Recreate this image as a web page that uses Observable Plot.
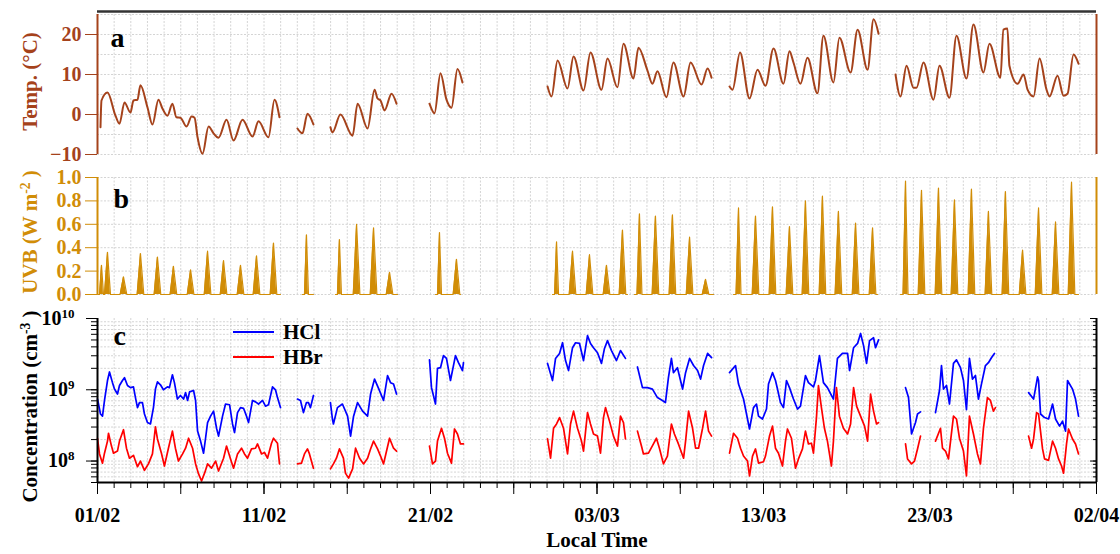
<!DOCTYPE html>
<html><head><meta charset="utf-8">
<script src="https://cdn.jsdelivr.net/npm/d3@7"></script>
<script src="https://cdn.jsdelivr.net/npm/@observablehq/plot@0.6"></script>
<style>
html,body{margin:0;padding:0;background:#fff;}
#chart{position:relative;width:1120px;height:554px;overflow:hidden;font-family:"Liberation Serif","Times New Roman",serif;}
#chart > div{position:absolute;left:0;}
</style></head>
<body><div id="chart"></div>
<script>
// ---------- DATA (day offsets from 01/02/2019 00:00 local time) ----------
const startDate = "2019-02-01";
const endDate = "2019-04-02";
const xTickLabels = ["2019-02-01","2019-02-11","2019-02-21","2019-03-03","2019-03-13","2019-03-23","2019-04-02"];
const tempTicks = [-10, 0, 10, 20];
const uvbTicks = [0, 0.2, 0.4, 0.6, 0.8, 1.0];
const concTicks = [1e8, 1e9, 1e10];

// Temperature (°C): [day, value]; null = data gap
const temperature = [
 [0.18,-3.2],[0.24,3.5],[0.60,5.5],[1.08,-0.3],[1.32,-2.3],[1.62,3],[1.98,0.5],[2.16,3.5],[2.40,3.7],[2.58,7.3],
 [3.00,1.8],[3.30,-2.5],[3.66,3.7],[3.90,1.5],[4.20,-0.3],[4.50,2.7],[4.74,-0.7],[4.98,-0.8],[5.35,-3],[5.65,-0.5],
 [5.83,-0.8],[6.01,-5.7],[6.31,-9.8],[6.67,-3],[6.97,-4.7],[7.27,-5.8],[7.75,-1.3],[8.17,-6.5],[8.71,-1.3],[9.31,-5.5],
 [9.67,-1.7],[10.27,-5.7],[10.63,3.7],[10.93,-0.7], null,
 [12.01,-3.5],[12.31,-4.7],[12.61,0.2],[12.97,-2.5], null,
 [13.99,-3.2],[14.11,-4.5],[14.59,0],[15.32,-5.3],[15.62,2.7],[16.22,-3.5],[16.64,6.2],[16.82,4],[17.00,3.5],[17.24,1],[17.66,5.2],[17.96,2.7], null,
 [19.94,2.7],[20.24,0.3],[20.60,10.3],[20.96,3.7],[21.26,1.7],[21.62,11.4],[21.92,8], null,
 [27.03,7],[27.27,4.5],[27.63,13.5],[28.23,6.5],[28.59,14.5],[29.19,6],[29.61,15.5],[30.27,6.2],[30.63,14],[31.23,6.8],
 [31.59,17.7],[32.19,9],[32.49,16.7],[33.03,11],[33.33,7.7],[33.63,10.8],[34.17,4.3],[34.59,13],[35.20,4.5],[35.62,13],
 [36.28,7.5],[36.64,11.5],[36.88,9.2], null,
 [37.96,7],[38.14,6.2],[38.59,15.5],[39.16,4],[39.64,11.2],[40.12,7.2],[40.60,16.5],[41.20,7.7],[41.56,15.8],[41.80,13],
 [42.22,7.7],[42.64,14.2],[43.24,5.3],[43.60,19.7],[44.20,8],[44.56,19.2],[45.23,10.5],[45.65,21.2],[46.25,11.2],[46.61,23.8],[46.91,20.2], null,
 [47.93,10],[48.23,4.5],[48.59,12.2],[49.01,6.7],[49.19,6.7],[49.61,13],[50.21,3.7],[50.57,12.2],[51.17,4.2],[51.59,19.7],
 [52.19,9],[52.61,22.5],[53.21,10.5],[53.57,17.7],[54.23,9.2],[54.41,21.2],[54.65,21.5],[54.77,12.2],[55.26,7.7],[55.62,10],
 [55.86,6.2],[56.22,4.5],[56.58,14],[57.00,6.2],[57.18,4.5],[57.66,9.7],[58.02,4.7],[58.26,5.2],[58.62,15],[58.92,12.7]
];

// UVB (W m-2): recording periods [start, end] and daily peaks
const uvbPeriods = [[0.00,10.99],[12.31,12.97],[14.29,18.02],[20.30,21.80],[27.33,31.83],[32.25,37.00],[38.20,46.85],[48.23,58.92]];
const uvbPeakDay = [0.24,0.60,1.56,2.58,3.60,4.56,5.59,6.61,7.57,8.59,9.55,10.57,12.55,14.53,15.56,16.58,17.54,20.54,21.56,
 27.57,28.53,29.55,30.57,31.53,32.55,33.51,34.53,35.56,36.52,38.50,39.52,40.54,41.56,42.52,43.54,44.50,45.53,46.55,
 48.53,49.49,50.51,51.47,52.49,53.51,54.53,55.56,56.52,57.54,58.50];
const uvbPeak = [0.25,0.36,0.15,0.35,0.32,0.24,0.21,0.37,0.29,0.25,0.33,0.44,0.51,0.47,0.60,0.57,0.19,0.53,0.30,
 0.45,0.37,0.34,0.25,0.55,0.69,0.67,0.68,0.49,0.13,0.74,0.67,0.75,0.58,0.80,0.84,0.71,0.61,0.57,
 0.97,0.89,0.91,0.81,0.90,0.71,0.88,0.38,0.74,0.62,0.96];

// HCl concentration: [day, log10(cm-3)]; null = gap
const hcl = [
 [0.00,8.87],[0.18,8.66],[0.30,8.63],[0.42,8.85],[0.60,9.13],[0.72,9.25],[0.90,9.10],[1.02,9.01],[1.20,8.94],[1.32,9.06],
 [1.50,9.13],[1.62,9.17],[1.80,9.06],[1.98,9.03],[2.16,9.04],[2.28,8.89],[2.40,8.75],[2.52,8.82],[2.70,8.82],[2.82,8.66],
 [3.00,8.54],[3.18,8.52],[3.36,8.75],[3.48,9.01],[3.60,9.11],[3.78,9.07],[3.96,9.00],[4.20,9.04],[4.32,9.03],[4.50,9.21],
 [4.62,9.10],[4.80,8.87],[4.98,8.92],[5.17,8.87],[5.29,8.96],[5.41,8.85],[5.53,8.97],[5.77,8.99],[5.89,8.85],[6.01,8.42],
 [6.19,8.28],[6.37,8.11],[6.49,8.32],[6.61,8.54],[6.79,8.63],[6.97,8.70],[7.15,8.46],[7.27,8.35],[7.51,8.63],[7.69,8.80],
 [7.93,8.79],[8.11,8.52],[8.23,8.40],[8.41,8.68],[8.59,8.75],[8.77,8.74],[8.95,8.63],[9.07,8.54],[9.31,8.85],[9.49,8.83],
 [9.67,8.80],[9.91,8.85],[10.09,8.77],[10.27,8.79],[10.51,9.04],[10.69,9.00],[10.81,8.89],[10.99,8.75], null,
 [12.01,8.87],[12.19,8.85],[12.37,8.68],[12.55,8.82],[12.67,8.82],[12.79,8.75],[12.97,8.92], null,
 [13.99,8.82],[14.11,8.59],[14.17,8.52],[14.41,8.75],[14.71,8.80],[15.02,8.63],[15.20,8.35],[15.38,8.63],[15.62,8.82],[15.92,8.70],
 [16.22,8.63],[16.40,8.94],[16.64,9.15],[16.88,9.02],[17.18,8.85],[17.42,9.20],[17.60,9.10],[17.78,9.08],[17.96,8.94], null,
 [19.94,9.42],[20.06,9.03],[20.30,8.80],[20.42,9.30],[20.60,9.31],[20.78,9.48],[20.96,9.44],[21.20,9.13],[21.50,9.48],[21.68,9.38],[21.92,9.27],[21.98,9.38], null,
 [27.03,9.37],[27.33,9.13],[27.51,9.44],[27.75,9.51],[27.93,9.66],[28.11,9.41],[28.29,9.27],[28.53,9.59],[28.71,9.66],[28.95,9.65],
 [29.19,9.41],[29.43,9.76],[29.61,9.65],[29.79,9.59],[30.03,9.52],[30.27,9.37],[30.45,9.58],[30.63,9.69],[30.87,9.55],[31.17,9.41],[31.41,9.55],[31.71,9.44], null,
 [32.43,9.32],[32.73,9.03],[33.03,9.03],[33.33,9.01],[33.63,8.89],[33.93,8.85],[34.11,8.82],[34.29,9.17],[34.47,9.44],[34.59,9.24],
 [34.83,9.31],[35.14,9.01],[35.32,9.24],[35.56,9.44],[35.80,9.34],[36.04,9.27],[36.22,9.15],[36.40,9.34],[36.64,9.51],[36.88,9.45], null,
 [37.96,9.24],[38.32,9.34],[38.50,9.08],[38.80,8.87],[39.16,8.45],[39.40,8.75],[39.58,8.80],[39.70,8.63],[39.94,8.59],[40.18,8.73],
 [40.30,9.08],[40.54,9.24],[40.72,9.13],[40.84,9.01],[41.02,8.82],[41.20,8.75],[41.38,9.13],[41.56,9.03],[41.80,8.87],[42.04,8.73],
 [42.22,8.77],[42.52,9.20],[42.70,9.10],[43.00,9.04],[43.12,9.13],[43.36,9.48],[43.60,9.10],[43.84,9.03],[44.20,8.87],[44.44,9.44],
 [44.74,9.51],[45.05,9.51],[45.17,9.27],[45.41,9.59],[45.65,9.65],[45.83,9.79],[46.01,9.62],[46.19,9.37],[46.37,9.69],[46.61,9.73],[46.73,9.59],[46.91,9.70], null,
 [48.53,9.03],[48.71,8.89],[48.89,8.38],[49.13,8.54],[49.25,8.66],[49.43,8.69], null,
 [50.33,8.68],[50.57,8.99],[50.69,9.34],[50.81,9.01],[50.99,9.06],[51.17,8.80],[51.41,9.37],[51.59,9.42],[51.83,9.31],[52.01,9.13],
 [52.19,8.72],[52.37,9.44],[52.55,9.15],[52.73,9.20],[52.91,8.87],[53.09,9.08],[53.33,9.34],[53.51,9.38],[53.69,9.45],[53.87,9.51], null,
 [55.92,8.96],[56.22,8.87],[56.46,9.18],[56.52,9.13],[56.64,8.66],[56.88,8.61],[57.12,8.59],[57.36,8.80],[57.54,8.59],[57.78,8.49],
 [57.96,8.56],[58.14,8.42],[58.26,9.13],[58.56,9.01],[58.74,8.87],[58.92,8.63]
];

// HBr concentration: [day, log10(cm-3)]; null = gap
const hbr = [
 [0.00,8.32],[0.12,8.10],[0.30,7.97],[0.42,8.11],[0.60,8.28],[0.66,8.39],[0.84,8.21],[0.96,8.11],[1.20,8.14],[1.32,8.28],
 [1.56,8.44],[1.74,8.18],[1.92,8.04],[2.16,8.08],[2.40,7.92],[2.58,8.00],[2.82,7.87],[3.06,7.96],[3.30,8.10],[3.48,8.48],
 [3.60,8.31],[3.84,8.11],[4.02,7.93],[4.26,8.18],[4.50,8.42],[4.68,8.18],[4.86,8.00],[5.11,8.10],[5.29,8.18],[5.47,8.32],
 [5.71,8.18],[5.89,7.96],[6.07,7.82],[6.25,7.72],[6.43,7.83],[6.61,7.96],[6.85,7.90],[7.09,8.00],[7.27,7.86],[7.57,8.04],
 [7.75,8.21],[7.99,8.03],[8.17,7.90],[8.41,8.10],[8.65,8.18],[8.83,8.10],[9.01,8.04],[9.25,8.17],[9.49,8.18],[9.61,8.24],
 [9.85,8.10],[10.03,8.12],[10.21,8.04],[10.45,8.25],[10.57,8.32],[10.81,8.25],[10.93,7.96], null,
 [12.01,7.96],[12.25,7.97],[12.43,8.10],[12.61,8.17],[12.73,8.10],[12.97,7.90], null,
 [13.99,7.89],[14.17,7.96],[14.35,8.04],[14.53,8.17],[14.77,8.04],[14.89,7.83],[15.08,7.76],[15.32,7.89],[15.50,8.18],[15.74,8.04],
 [15.98,7.96],[16.22,8.04],[16.40,8.17],[16.58,8.28],[16.82,8.17],[17.00,8.07],[17.18,7.96],[17.36,8.14],[17.54,8.32],[17.78,8.18],[17.96,8.14], null,
 [19.94,8.21],[20.12,7.96],[20.30,8.00],[20.42,8.28],[20.66,8.46],[20.84,8.32],[21.02,8.11],[21.26,7.97],[21.44,8.45],[21.62,8.38],[21.80,8.24],[21.98,8.24], null,
 [27.03,8.31],[27.21,8.04],[27.39,8.46],[27.57,8.52],[27.75,8.61],[27.99,8.46],[28.23,8.10],[28.41,8.52],[28.59,8.70],[28.83,8.46],
 [29.07,8.28],[29.19,8.14],[29.43,8.68],[29.61,8.52],[29.79,8.38],[30.03,8.35],[30.21,8.11],[30.39,8.61],[30.51,8.75],[30.75,8.56],
 [30.99,8.35],[31.23,8.21],[31.41,8.63],[31.59,8.54],[31.71,8.31], null,
 [32.43,8.42],[32.67,8.21],[32.79,8.10],[33.09,8.11],[33.39,8.24],[33.57,8.32],[33.75,8.18],[33.99,7.96],[34.23,8.07],[34.47,8.52],
 [34.65,8.38],[34.89,8.24],[35.20,8.04],[35.32,8.28],[35.50,8.70],[35.74,8.46],[35.92,8.18],[36.10,8.18],[36.34,8.46],[36.52,8.70],[36.70,8.42],[36.88,8.35], null,
 [37.96,8.11],[38.20,8.39],[38.44,8.32],[38.62,8.18],[38.80,8.07],[39.04,8.00],[39.16,7.79],[39.34,8.07],[39.52,8.17],[39.70,7.97],
 [40.00,7.99],[40.12,8.07],[40.36,8.35],[40.54,8.49],[40.72,8.18],[40.90,8.11],[41.14,7.93],[41.32,8.28],[41.44,8.45],[41.68,8.32],
 [41.92,7.90],[42.10,8.03],[42.34,8.17],[42.52,8.42],[42.70,8.24],[42.88,8.25],[43.00,8.11],[43.18,8.61],[43.30,9.06],[43.48,8.75],
 [43.66,8.46],[43.84,8.28],[44.08,7.93],[44.20,8.28],[44.38,9.03],[44.56,8.63],[44.80,8.46],[45.05,8.38],[45.23,8.52],[45.41,9.03],
 [45.59,8.77],[45.83,8.63],[46.07,8.49],[46.25,8.28],[46.43,8.94],[46.61,8.70],[46.79,8.52],[46.91,8.54], null,
 [48.53,8.24],[48.65,8.03],[48.89,7.96],[49.07,8.00],[49.25,8.17],[49.43,8.35], null,
 [50.33,8.28],[50.63,8.46],[50.75,8.18],[50.93,8.14],[51.11,8.03],[51.41,8.63],[51.59,8.59],[51.77,8.32],[52.01,8.14],[52.19,7.79],
 [52.37,8.63],[52.61,8.38],[52.85,8.10],[53.03,7.96],[53.21,8.46],[53.45,8.89],[53.63,8.85],[53.81,8.70],[53.93,8.75], null,
 [55.92,8.35],[56.10,8.18],[56.22,8.31],[56.40,8.68],[56.52,8.66],[56.76,8.17],[56.88,8.03],[57.12,8.01],[57.36,8.28],[57.54,8.18],
 [57.72,8.03],[57.90,7.93],[58.02,7.83],[58.20,8.24],[58.32,8.45],[58.56,8.31],[58.74,8.24],[58.92,8.10]
];

// ---------- BUILD ----------
const W = 1120, ML = 97, MR = 24;
const BROWN = "#a5421b", GOLD = "#d18d07";
const FONT = '"Liberation Serif", "Times New Roman", serif';
const t0 = new Date(startDate + "T00:00:00Z");
const t1 = new Date(endDate + "T00:00:00Z");
const xDomain = [t0, t1];
const toDate = d => new Date(+t0 + d * 864e5);
const days = d3.utcDay.range(t0, d3.utcDay.offset(t1, 1));
const fiveDays = days.filter((d, i) => i % 5 === 0);
const labelDates = xTickLabels.map(s => new Date(s + "T00:00:00Z"));
const grid = {stroke: "#d4d4d4", strokeDasharray: "2,1.5", strokeWidth: 1};

const rows = (pts, f = v => v) => pts.map(p => p ? {t: toDate(p[0]), v: f(p[1])} : {t: null, v: null});
const tempRows = rows(temperature);
const hclRows = rows(hcl, v => 10 ** v);
const hbrRows = rows(hbr, v => 10 ** v);

const uvbRows = [];
uvbPeriods.forEach(([s, e]) => {
  uvbRows.push({t: toDate(s), v: 0});
  let prev = s;
  uvbPeakDay.forEach((t, i) => {
    if (t < s || t > e) return;
    const h = Math.min(0.2, (t - prev) / 2);
    uvbRows.push({t: toDate(t - h), v: 0}, {t: toDate(t), v: uvbPeak[i]}, {t: toDate(t + h), v: 0});
    prev = t;
  });
  uvbRows.push({t: toDate(e), v: 0}, {t: null, v: null});
});

// turn "base^sup rest" texts into real superscript tspans
function supify(svg) {
  svg.querySelectorAll("text").forEach(el => {
    const m = /^(.*?)\^(-?\d+)(.*)$/.exec(el.textContent);
    if (!m) return;
    while (el.firstChild) el.removeChild(el.firstChild);
    const ns = "http://www.w3.org/2000/svg";
    el.appendChild(document.createTextNode(m[1]));
    const s = document.createElementNS(ns, "tspan");
    s.setAttribute("dy", "-0.55em");
    s.setAttribute("font-size", "0.65em");
    s.textContent = m[2];
    el.appendChild(s);
    if (m[3]) {
      const r = document.createElementNS(ns, "tspan");
      r.setAttribute("dy", "0.36em");
      r.textContent = m[3];
      el.appendChild(r);
    }
  });
  return svg;
}

const chart = document.getElementById("chart");
function place(svg, top) {
  const div = document.createElement("div");
  div.style.top = top + "px";
  div.appendChild(supify(svg));
  chart.appendChild(div);
}
const baseStyle = c => ({color: c, fontFamily: FONT, fontSize: "20px", fontWeight: "bold", background: "transparent", overflow: "visible"});
const yTitle = (label, color, dy = 0) => Plot.text([label], {text: d => d, frameAnchor: "left", textAnchor: "middle", lineAnchor: "middle", rotate: -90, dx: -67, dy, fill: color, fontSize: 21, fontWeight: "bold"});
const letter = (s, dx, dy) => Plot.text([s], {text: d => d, frameAnchor: "top-left", textAnchor: "start", lineAnchor: "middle", dx, dy, fontSize: 28, fontWeight: "bold", fill: "#000"});

// Panel a
place(Plot.plot({
  width: W, height: 160, marginTop: 14, marginBottom: 6, marginLeft: ML, marginRight: MR,
  style: baseStyle(BROWN),
  x: {type: "utc", domain: xDomain, axis: null},
  y: {domain: [-10, 25], axis: null},
  marks: [
    Plot.ruleX(days, grid),
    Plot.ruleY(d3.range(-10, 26, 5), grid),
    Plot.line(tempRows, {x: "t", y: "v", stroke: BROWN, strokeWidth: 2, curve: "monotone-x"}),
    Plot.ruleX([t0], {stroke: BROWN, strokeWidth: 2}),
    Plot.ruleX([t1], {stroke: BROWN, strokeWidth: 2}),
    Plot.ruleY([25], {stroke: "#333", strokeWidth: 2.5, dy: -3}),
    Plot.axisY(tempTicks, {tickSize: 12, tickPadding: 4, fontSize: 20, label: null}),
    yTitle("Temp. (°C)", BROWN, -3),
    letter("a", 13, 24)
  ]
}), 0);

// Panel b
place(Plot.plot({
  width: W, height: 140, marginTop: 17, marginBottom: 6, marginLeft: ML, marginRight: MR,
  style: baseStyle(GOLD),
  x: {type: "utc", domain: xDomain, axis: null},
  y: {domain: [0, 1], axis: null},
  marks: [
    Plot.ruleX(days, grid),
    Plot.ruleY(uvbTicks, grid),
    Plot.areaY(uvbRows, {x: "t", y: "v", fill: GOLD}),
    Plot.lineY(uvbRows, {x: "t", y: "v", stroke: GOLD, strokeWidth: 1.2}),
    Plot.ruleX([t0], {stroke: GOLD, strokeWidth: 2}),
    Plot.ruleX([t1], {stroke: GOLD, strokeWidth: 2}),
    Plot.axisY(uvbTicks, {tickSize: 12, tickPadding: 4, fontSize: 20, label: null, tickFormat: d3.format(".1f")}),
    yTitle("UVB (W m^-2 )", GOLD, -4),
    letter("b", 16, 22)
  ]
}), 160);

// Panel c
const supFmt = d => "10^" + Math.round(Math.log10(d));
const minorConc = [];
for (let e = 7; e <= 9; e++) for (let k = 1; k <= 9; k++) { const v = k * 10 ** e; if (v >= 5e7 && v <= 1e10) minorConc.push(v); }
const blank = () => "";
place(Plot.plot({
  width: W, height: 254, marginTop: 18, marginBottom: 72, marginLeft: ML, marginRight: MR,
  style: baseStyle("#000"),
  x: {type: "utc", domain: xDomain, axis: null},
  y: {type: "log", domain: [5e7, 1e10], axis: null},
  marks: [
    Plot.ruleX(days, grid),
    Plot.ruleY(minorConc, grid),
    Plot.line(hclRows, {x: "t", y: "v", stroke: "#0000ff", strokeWidth: 1.7}),
    Plot.line(hbrRows, {x: "t", y: "v", stroke: "#ff0000", strokeWidth: 1.7}),
    Plot.ruleX([t0], {stroke: "#000", strokeWidth: 2}),
    Plot.ruleX([t1], {stroke: "#000", strokeWidth: 2}),
    Plot.ruleY([5e7], {stroke: "#000", strokeWidth: 2}),
    Plot.axisY(minorConc, {tickSize: 6, tickFormat: blank, label: null}),
    Plot.axisY(concTicks, {tickSize: 11, tickPadding: 12, fontSize: 20, label: null, tickFormat: supFmt}),
    Plot.axisY(minorConc, {anchor: "right", tickSize: -4, tickFormat: blank, label: null}),
    Plot.axisY(concTicks, {anchor: "right", tickSize: -7, tickFormat: blank, label: null}),
    Plot.axisX(days, {tickSize: 6, tickFormat: blank, label: null}),
    Plot.axisX(fiveDays, {tickSize: 12, tickFormat: blank, label: null}),
    Plot.axisX(labelDates, {tickSize: 12, tickPadding: 13, fontSize: 20, label: null, tickFormat: d3.utcFormat("%d/%m")}),
    Plot.text(["Local Time"], {text: d => d, frameAnchor: "bottom", lineAnchor: "middle", dy: 58, fontSize: 21, fontWeight: "bold", fill: "#000"}),
    yTitle("Concentration (cm^-3 )", "#000", 6),
    letter("c", 16, 18)
  ]
}), 300);

// Legend
const legend = document.createElement("div");
legend.style.top = "0px";
legend.style.pointerEvents = "none";
legend.innerHTML = `<svg width="1120" height="554" style="overflow:visible;font-family:'Liberation Serif','Times New Roman',serif;font-weight:bold;font-size:21px">
 <line x1="233" x2="274" y1="332" y2="332" stroke="#0000ff" stroke-width="2"/>
 <text x="283" y="339">HCl</text>
 <line x1="233" x2="274" y1="357" y2="357" stroke="#ff0000" stroke-width="2"/>
 <text x="283" y="364">HBr</text></svg>`;
chart.appendChild(legend);
</script></body></html>
